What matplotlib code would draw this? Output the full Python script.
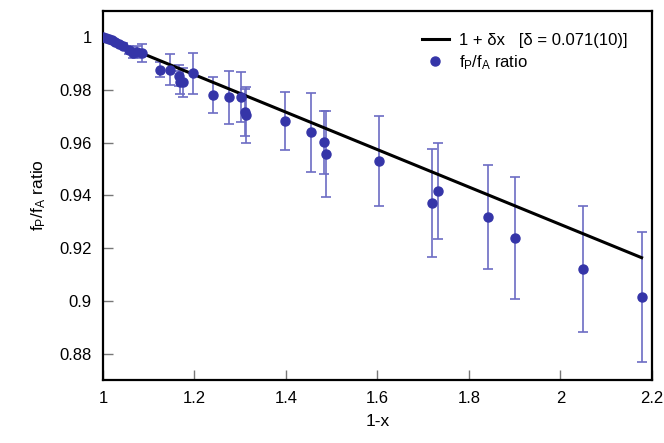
import matplotlib
matplotlib.use("Agg")
import matplotlib.pyplot as plt
import numpy as np

plt.rcParams['font.family'] = ['Liberation Sans', 'DejaVu Sans']
plt.rcParams['mathtext.default'] = 'regular'

# data: 1-x, ratio, error
one_minus_x = [1.001, 1.0066, 1.013, 1.0197, 1.026, 1.035, 1.044, 1.057, 1.066, 1.074, 1.085,
               1.1248, 1.1467, 1.1664, 1.1686, 1.175, 1.197, 1.2409, 1.2759, 1.302, 1.311, 1.313,
               1.3985, 1.4554, 1.4839, 1.4883, 1.6043, 1.7193, 1.7327, 1.8426, 1.9006, 2.0502, 2.1773]
ratio = [1.0000, 0.9997, 0.9993, 0.9989, 0.9984, 0.9976, 0.9969, 0.9953, 0.9942, 0.9946, 0.9942,
         0.9878, 0.9878, 0.9855, 0.9829, 0.9829, 0.9863, 0.9780, 0.9772, 0.9772, 0.9715, 0.9704,
         0.9681, 0.9640, 0.9602, 0.9557, 0.9530, 0.9371, 0.9417, 0.9318, 0.9239, 0.9122, 0.9016]
err = [0.0002, 0.0003, 0.0004, 0.0005, 0.0006, 0.0007, 0.0008, 0.0015, 0.0020, 0.0023, 0.0034,
       0.0030, 0.0057, 0.0040, 0.0045, 0.0055, 0.0077, 0.0068, 0.0102, 0.0095, 0.0090, 0.0106,
       0.0110, 0.0149, 0.0120, 0.0164, 0.0170, 0.0206, 0.0183, 0.0196, 0.0230, 0.0240, 0.0247]

delta = 0.071
fit_x = np.array([1.0, max(one_minus_x)])
fit_y = 1 - delta * (fit_x - 1)

fig = plt.figure(figsize=(6.64, 4.43), dpi=100)
ax = fig.add_axes([0.1551, 0.1422, 0.8268, 0.8330])

pt_color = '#3535a8'
err_color = '#6c6cc4'

ax.plot(fit_x, fit_y, color='black', lw=2.2, zorder=3,
        label='1 + δx   [δ = 0.071(10)]')
ax.errorbar(one_minus_x, ratio, yerr=err, fmt='none', ecolor=err_color,
            elinewidth=1.2, capsize=3.5, capthick=1.2, zorder=2)
ax.plot(one_minus_x, ratio, 'o', color=pt_color, ms=6.5, mec=pt_color, zorder=4,
        label='f$_{P}$/f$_{A}$ ratio')

ax.set_xlim(1.0, 2.2)
ax.set_ylim(0.87, 1.01)
ax.set_xticks([1, 1.2, 1.4, 1.6, 1.8, 2, 2.2])
ax.set_xticklabels(['1', '1.2', '1.4', '1.6', '1.8', '2', '2.2'])
ax.set_yticks([0.88, 0.9, 0.92, 0.94, 0.96, 0.98, 1.0])
ax.set_yticklabels(['0.88', '0.9', '0.92', '0.94', '0.96', '0.98', '1'])
ax.tick_params(direction='in', length=7, width=1, color='#777777', labelsize=12,
               pad=8, top=False, right=False)
for s in ax.spines.values():
    s.set_linewidth(1.6)
    s.set_color('black')

ax.set_xlabel('1-x', fontsize=12.5, labelpad=6)
ax.set_ylabel('f$_{P}$/f$_{A}$ ratio', fontsize=12.5, labelpad=8)

leg = ax.legend(loc='upper right', frameon=False, fontsize=12, handlelength=1.6,
                handletextpad=0.6, borderaxespad=0.6, labelspacing=0.3,
                bbox_to_anchor=(0.985, 0.985))

fig.savefig('out.png', dpi=100)
